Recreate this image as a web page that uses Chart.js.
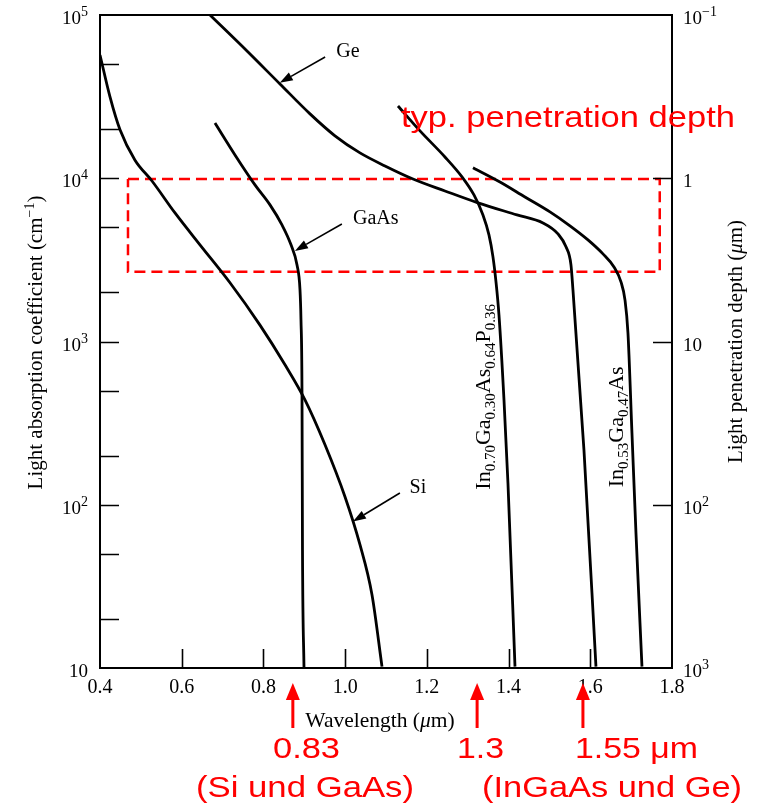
<!DOCTYPE html>
<html lang="en">
<head>
<meta charset="UTF-8">
<title>Light absorption coefficient vs wavelength</title>
<script src="https://cdn.jsdelivr.net/npm/chart.js"></script>
<style>
    html, body { margin: 0; padding: 0; background: #fff; }
    #wrap { width: 763px; height: 807px; }
</style>
</head>
<body>
<div id="wrap"><canvas id="absChart" width="763" height="807"></canvas></div>
<script>
// wavelength in um, absorption coefficient in 1/cm
var siLambda = [0.400, 0.4245, 0.449, 0.4857, 0.5273, 0.5836, 0.6447, 0.7182, 0.7916, 0.8528, 0.9017, 0.9507, 0.9996, 1.0363, 1.0657, 1.0902];
var siAlpha  = [56900, 31500, 19800, 12900, 9620, 6130, 3910, 2290, 1260, 720, 439, 233, 112, 56.9, 28.1, 10.2];

var gaasLambda = [0.6814, 0.7304, 0.7793, 0.8161, 0.8454, 0.8675, 0.8821, 0.8895, 0.8919, 0.8944, 0.8956, 0.8993];
var gaasAlpha  = [21800, 13900, 9110, 6870, 5180, 3910, 2950, 2070, 1360, 484, 53, 10];

var geLambda = [0.6692, 0.7549, 0.8405, 0.9140, 0.9751, 1.0363, 1.0975, 1.1660, 1.2443, 1.3251, 1.4206, 1.4842, 1.5209, 1.5405, 1.5527, 1.5576, 1.5845, 1.6139];
var geAlpha  = [100000, 61900, 37800, 24800, 18200, 14300, 11900, 9900, 8360, 7070, 5960, 5320, 4560, 3800, 2950, 2070, 217, 10.2];

var ingaaspLambda = [1.1293, 1.1832, 1.2443, 1.2860, 1.3153, 1.3373, 1.3520, 1.3618, 1.3692, 1.3765, 1.3888, 1.3985, 1.4157];
var ingaaspAlpha  = [27700, 19500, 13500, 10200, 7900, 5960, 4500, 3300, 2320, 1456, 438, 136, 10.2];

var ingaasLambda = [1.3129, 1.3790, 1.4401, 1.5013, 1.5503, 1.5943, 1.6310, 1.6580, 1.6751, 1.6849, 1.6922, 1.7020, 1.7118, 1.7265];
var ingaasAlpha  = [11600, 9490, 7680, 6220, 5110, 4190, 3440, 2860, 2320, 1800, 1130, 275, 67.3, 10.2];

// "typ. penetration depth" box
var boxLambda = [0.4685, 1.770, 1.770, 0.4685, 0.4685];
var boxAlpha  = [9900, 9900, 2670, 2670, 9900];

// ticks
var xTickVals = [0.6, 0.8, 1.0, 1.2, 1.4, 1.6];
var leftLabelVals = [10, 100, 1000, 10000, 100000];
var leftTickVals = [20, 50, 100, 200, 500, 1000, 2000, 5000, 10000, 20000, 50000];
var rightLabelVals = [0.1, 1, 10, 100, 1000];
var rightTickVals = [1, 10, 100];

// marked wavelengths under the axis
var markLambda = [0.872, 1.323, 1.582];

function pts(xs, ys) {
    return xs.map(function (x, i) { return {x: x, y: ys[i]}; });
}

var SERIF = '"Liberation Serif", "Times New Roman", serif';
var SANS = '"Liberation Sans", Arial, sans-serif';

// power-of-ten label as text runs: [text, size, italic, dy]
function powRuns(v) {
    var e = Math.round(Math.log10(v));
    if (e === 0) return [['1', 19]];
    if (e === 1) return [['10', 19]];
    return [['10', 19], [e < 0 ? '\u2212' + (-e) : String(e), 14, false, -8]];
}

function runsWidth(ctx, runs) {
    var w = 0;
    runs.forEach(function (r) {
        ctx.font = (r[2] ? 'italic ' : '') + r[1] + 'px ' + SERIF;
        w += ctx.measureText(r[0]).width;
    });
    return w;
}
function drawRunsAt(ctx, runs, x, y) {
    ctx.textAlign = 'left';
    ctx.textBaseline = 'alphabetic';
    runs.forEach(function (r) {
        ctx.font = (r[2] ? 'italic ' : '') + r[1] + 'px ' + SERIF;
        ctx.fillText(r[0], x, y + (r[3] || 0));
        x += ctx.measureText(r[0]).width;
    });
}
function drawRuns(ctx, runs, x, y) {
    drawRunsAt(ctx, runs, x - runsWidth(ctx, runs) / 2, y);
}
function drawRotated(ctx, runs, x, y) {
    ctx.save();
    ctx.translate(x, y);
    ctx.rotate(-Math.PI / 2);
    drawRuns(ctx, runs, 0, 0);
    ctx.restore();
}
function arrow(ctx, x1, y1, x2, y2, headLen, headW, lw) {
    var a = Math.atan2(y2 - y1, x2 - x1);
    var bx = x2 - headLen * Math.cos(a), by = y2 - headLen * Math.sin(a);
    ctx.lineWidth = lw;
    ctx.beginPath();
    ctx.moveTo(x1, y1);
    ctx.lineTo(bx, by);
    ctx.stroke();
    ctx.beginPath();
    ctx.moveTo(x2, y2);
    ctx.lineTo(bx + headW * Math.sin(a), by - headW * Math.cos(a));
    ctx.lineTo(bx - headW * Math.sin(a), by + headW * Math.cos(a));
    ctx.closePath();
    ctx.fill();
}
function fitText(ctx, text, left, right, baseline, size) {
    ctx.font = size + 'px ' + SANS;
    var w = ctx.measureText(text).width;
    ctx.save();
    ctx.translate(left, baseline);
    ctx.scale((right - left) / w, 1);
    ctx.textAlign = 'left';
    ctx.textBaseline = 'alphabetic';
    ctx.fillText(text, 0, 0);
    ctx.restore();
}

// labels pointing at the curves: label position and arrow tail/tip in data units
var curveLabels = [
    {text: 'Ge',   at: [1.007, 59300], tail: [0.951, 55300], tip: [0.840, 38400]},
    {text: 'GaAs', at: [1.075, 5640],  tail: [0.992, 5250],  tip: [0.877, 3590]},
    {text: 'Si',   at: [1.178, 127],   tail: [1.134, 118],   tip: [1.019, 79]}
];

var decor = {
    id: 'decor',
    afterDatasetsDraw: function (chart) {
        var ctx = chart.ctx, a = chart.chartArea;
        var xs = chart.scales.x, ys = chart.scales.y, y2 = chart.scales.y2;
        ctx.save();
        ctx.strokeStyle = '#000';
        ctx.fillStyle = '#000';

        // frame and inner ticks
        ctx.lineWidth = 2;
        ctx.strokeRect(a.left, a.top, a.right - a.left, a.bottom - a.top);
        ctx.lineWidth = 1.6;
        ctx.beginPath();
        leftTickVals.forEach(function (v) {
            var p = Math.round(ys.getPixelForValue(v)) + 0.5;
            ctx.moveTo(a.left, p); ctx.lineTo(a.left + 19, p);
        });
        rightTickVals.forEach(function (v) {
            var p = Math.round(y2.getPixelForValue(v)) + 0.5;
            ctx.moveTo(a.right, p); ctx.lineTo(a.right - 19, p);
        });
        xTickVals.forEach(function (v) {
            var p = Math.round(xs.getPixelForValue(v)) + 0.5;
            ctx.moveTo(p, a.bottom); ctx.lineTo(p, a.bottom - 19);
        });
        ctx.stroke();

        // y tick labels with raised exponents
        leftLabelVals.forEach(function (v) {
            var runs = powRuns(v);
            drawRunsAt(ctx, runs, a.left - 12 - runsWidth(ctx, runs), ys.getPixelForValue(v) + 9);
        });
        rightLabelVals.forEach(function (v) {
            drawRunsAt(ctx, powRuns(v), a.right + 11, y2.getPixelForValue(v) + 9);
        });

        // curve labels
        curveLabels.forEach(function (c) {
            ctx.font = '20px ' + SERIF;
            ctx.textAlign = 'center';
            ctx.textBaseline = 'middle';
            ctx.fillText(c.text, xs.getPixelForValue(c.at[0]), ys.getPixelForValue(c.at[1]));
            arrow(ctx, xs.getPixelForValue(c.tail[0]), ys.getPixelForValue(c.tail[1]),
                  xs.getPixelForValue(c.tip[0]), ys.getPixelForValue(c.tip[1]), 13, 4.5, 1.6);
        });

        // compound labels along the steep edges
        drawRotated(ctx, [['In', 22], ['0.70', 15, false, 5], ['Ga', 22], ['0.30', 15, false, 5],
                          ['As', 22], ['0.64', 15, false, 5], ['P', 22], ['0.36', 15, false, 5]],
                    xs.getPixelForValue(1.354), ys.getPixelForValue(458));
        drawRotated(ctx, [['In', 22], ['0.53', 15, false, 5], ['Ga', 22], ['0.47', 15, false, 5], ['As', 22]],
                    xs.getPixelForValue(1.680), ys.getPixelForValue(300));

        // axis titles
        var midY = (a.top + a.bottom) / 2;
        drawRotated(ctx, [['Light absorption coefficient (cm', 21], ['\u22121', 14, false, -8], [')', 21]], 42, midY + 1);
        drawRotated(ctx, [['Light penetration depth (', 21], ['\u03BC', 21, true], ['m)', 21]], 742, midY);
        drawRuns(ctx, [['Wavelength (', 21.5], ['\u03BC', 21.5, true], ['m)', 21.5]], 380, a.bottom + 59);

        // red annotations
        ctx.fillStyle = '#ff0000';
        ctx.strokeStyle = '#ff0000';
        fitText(ctx, 'typ. penetration depth', 401, 735, 127, 30);
        markLambda.forEach(function (l) {
            var px = xs.getPixelForValue(l);
            arrow(ctx, px, a.bottom + 60, px, a.bottom + 15, 17, 7, 3);
        });
        fitText(ctx, '0.83', 273, 340, 758, 29);
        fitText(ctx, '1.3', 457, 504, 758, 29);
        fitText(ctx, '1.55 \u03BCm', 575, 698, 758, 29);
        fitText(ctx, '(Si und GaAs)', 196, 414, 797, 29);
        fitText(ctx, '(InGaAs und Ge)', 482, 742, 797, 29);
        ctx.restore();
    }
};

var lineStyle = {borderColor: '#000', borderWidth: 2.8, pointRadius: 0, tension: 0.4,
                 cubicInterpolationMode: 'monotone', fill: false};

new Chart(document.getElementById('absChart'), {
    type: 'line',
    data: {
        datasets: [
            Object.assign({label: 'Si', data: pts(siLambda, siAlpha)}, lineStyle),
            Object.assign({label: 'GaAs', data: pts(gaasLambda, gaasAlpha)}, lineStyle),
            Object.assign({label: 'Ge', data: pts(geLambda, geAlpha)}, lineStyle),
            Object.assign({label: 'In0.70Ga0.30As0.64P0.36', data: pts(ingaaspLambda, ingaaspAlpha)}, lineStyle),
            Object.assign({label: 'In0.53Ga0.47As', data: pts(ingaasLambda, ingaasAlpha)}, lineStyle),
            {label: 'typ. penetration depth', data: pts(boxLambda, boxAlpha), borderColor: '#ff0000',
             borderWidth: 2.5, borderDash: [11, 6], pointRadius: 0, tension: 0, fill: false}
        ]
    },
    options: {
        responsive: false,
        animation: false,
        layout: {padding: {top: 15, left: 0, right: 0, bottom: 0}},
        plugins: {legend: {display: false}, tooltip: {enabled: false}},
        scales: {
            x: {
                type: 'linear', min: 0.4, max: 1.8,
                grid: {display: false, drawTicks: false}, border: {display: false},
                ticks: {stepSize: 0.2, padding: 8, color: '#000', font: {family: SERIF, size: 20},
                        callback: function (v) { return v.toFixed(1); }},
                afterFit: function (s) { s.height = 139; }
            },
            y: {
                type: 'logarithmic', position: 'left', min: 10, max: 100000,
                grid: {display: false, drawTicks: false}, border: {display: false},
                ticks: {display: false},
                afterFit: function (s) { s.width = 100; }
            },
            y2: {
                type: 'logarithmic', position: 'right', min: 0.1, max: 1000, reverse: true,
                grid: {display: false, drawTicks: false}, border: {display: false},
                ticks: {display: false},
                afterFit: function (s) { s.width = 91; }
            }
        }
    },
    plugins: [decor]
});
</script>
</body>
</html>
